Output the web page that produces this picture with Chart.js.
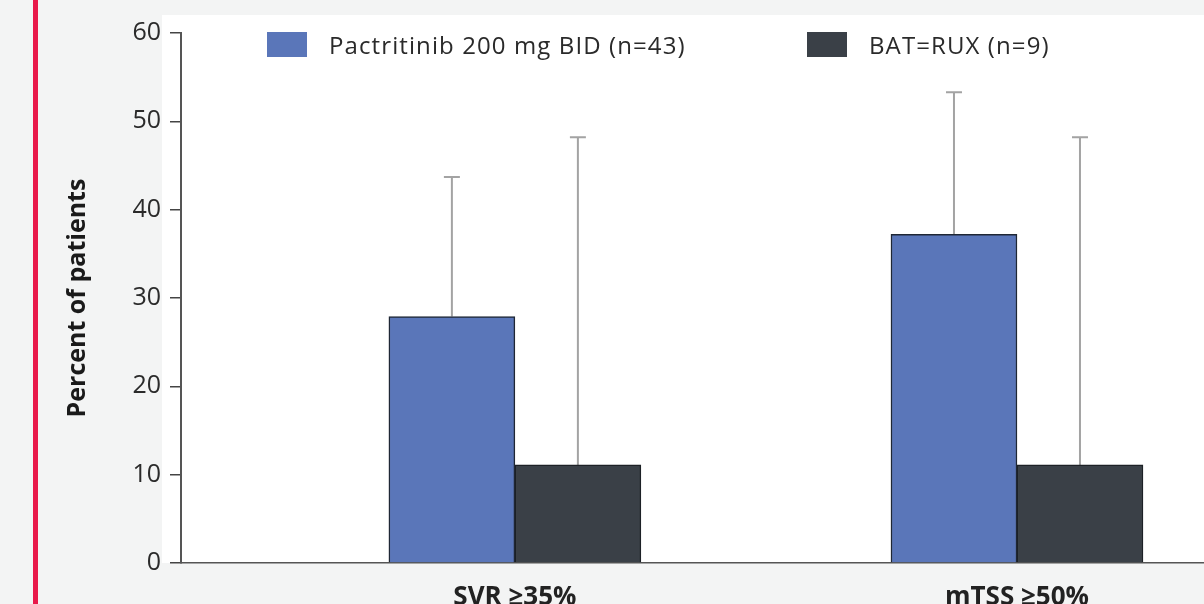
<!DOCTYPE html>
<html lang="en">
<head>
  <meta charset="UTF-8">
  <title>Pactritinib vs BAT=RUX</title>
  <script src="https://cdn.jsdelivr.net/npm/chart.js"></script>
  <style>
    * { box-sizing: border-box; margin: 0; padding: 0; }
    body {
      background: #f3f4f4;
      width: 1204px;
      height: 604px;
      overflow: hidden;
      position: relative;
      font-family: "Open Sans", sans-serif;
    }
    .redline {
      position: absolute;
      left: 33px;
      top: 0;
      width: 5px;
      height: 604px;
      background: #e8194a;
    }
    .wrap {
      position: absolute;
      left: 0;
      top: 0;
      width: 1204px;
      height: 640px;
    }
    .legend {
      position: absolute;
      top: 32px;
      display: flex;
      align-items: center;
      font-size: 24px;
      letter-spacing: 1.1px;
      color: #2a2a2a;
      height: 25px;
    }
    .legend span.box {
      display: inline-block;
      width: 40px;
      height: 25px;
      margin-right: 22px;
    }
  </style>
</head>
<body>
  <div class="redline"></div>
  <div class="wrap"><canvas id="chart"></canvas></div>
  <div class="legend" style="left:267px"><span class="box" style="background:#5a76b9"></span>Pactritinib 200 mg BID (n=43)</div>
  <div class="legend" style="left:807px"><span class="box" style="background:#3a4047"></span>BAT=RUX (n=9)</div>

  <script>
    const categories = ['SVR \u226535%', 'mTSS \u226550%'];
    const pacValues = [27.9, 37.2];
    const pacUpper = [43.7, 53.3];
    const batValues = [11.1, 11.1];
    const batUpper = [48.2, 48.2];
    const yTicks = [0, 10, 20, 30, 40, 50, 60];

    const upperLimits = [pacUpper, batUpper];

    // white panel behind the plot
    const panelBg = {
      id: 'panelBg',
      beforeDraw(chart) {
        const a = chart.chartArea;
        const ctx = chart.ctx;
        ctx.save();
        ctx.fillStyle = '#ffffff';
        ctx.fillRect(a.left - 19, a.top - 18, a.right - a.left + 19, a.bottom - a.top + 18);
        ctx.restore();
      }
    };

    // upper whiskers only
    const whiskers = {
      id: 'whiskers',
      beforeDatasetsDraw(chart) {
        const ctx = chart.ctx;
        const y = chart.scales.y;
        ctx.save();
        ctx.strokeStyle = '#a3a3a3';
        ctx.lineWidth = 2;
        chart.data.datasets.forEach((ds, di) => {
          chart.getDatasetMeta(di).data.forEach((bar, i) => {
            const top = y.getPixelForValue(upperLimits[di][i]);
            ctx.beginPath();
            ctx.moveTo(bar.x, bar.y);
            ctx.lineTo(bar.x, top);
            ctx.moveTo(bar.x - 8, top);
            ctx.lineTo(bar.x + 8, top);
            ctx.stroke();
          });
        });
        ctx.restore();
      }
    };

    new Chart(document.getElementById('chart'), {
      type: 'bar',
      data: {
        datasets: [{
          label: 'Pactritinib 200 mg BID (n=43)',
          data: categories.map((c, i) => ({ x: i + 1, y: pacValues[i] })),
          backgroundColor: '#5a76b9',
          borderColor: '#1f2735',
          borderWidth: 1.5,
          barThickness: 126
        }, {
          label: 'BAT=RUX (n=9)',
          data: categories.map((c, i) => ({ x: i + 1, y: batValues[i] })),
          backgroundColor: '#3a4047',
          borderColor: '#1d2126',
          borderWidth: 1.5,
          barThickness: 126
        }]
      },
      options: {
        responsive: true,
        maintainAspectRatio: false,
        animation: false,
        layout: { padding: { left: 0, right: 0, top: 33, bottom: 0 } },
        plugins: {
          legend: { display: false },
          tooltip: { enabled: false }
        },
        scales: {
          x: {
            type: 'linear',
            offset: false,
            min: 0.335,
            max: 2.3725,
            grid: { display: false, drawTicks: false },
            border: { display: true, color: '#555555', width: 1.5 },
            afterBuildTicks: (scale) => {
              scale.ticks = categories.map((c, i) => ({ value: i + 1 }));
            },
            afterFit: (scale) => { scale.height = 77; },
            ticks: {
              autoSkip: false,
              maxRotation: 0,
              padding: 19,
              color: '#222222',
              font: { family: 'Open Sans', size: 26, weight: 'bold' },
              callback: (v) => categories[v - 1]
            }
          },
          y: {
            min: 0,
            max: 60,
            afterBuildTicks: (scale) => {
              scale.ticks = yTicks.map(v => ({ value: v }));
            },
            afterFit: (scale) => { scale.width = 181; },
            grid: {
              display: true,
              drawOnChartArea: false,
              drawTicks: true,
              tickLength: 11,
              color: '#444444',
              lineWidth: 1.5
            },
            border: { display: true, color: '#555555', width: 2 },
            ticks: {
              padding: 9,
              color: '#2a2a2a',
              font: { family: 'Open Sans', size: 25 }
            },
            title: {
              display: true,
              text: 'Percent of patients',
              color: '#1a1a1a',
              padding: { top: 63, bottom: 0 },
              font: { family: 'Open Sans', size: 25, weight: 'bold' }
            }
          }
        }
      },
      plugins: [panelBg, whiskers]
    });
  </script>
</body>
</html>
